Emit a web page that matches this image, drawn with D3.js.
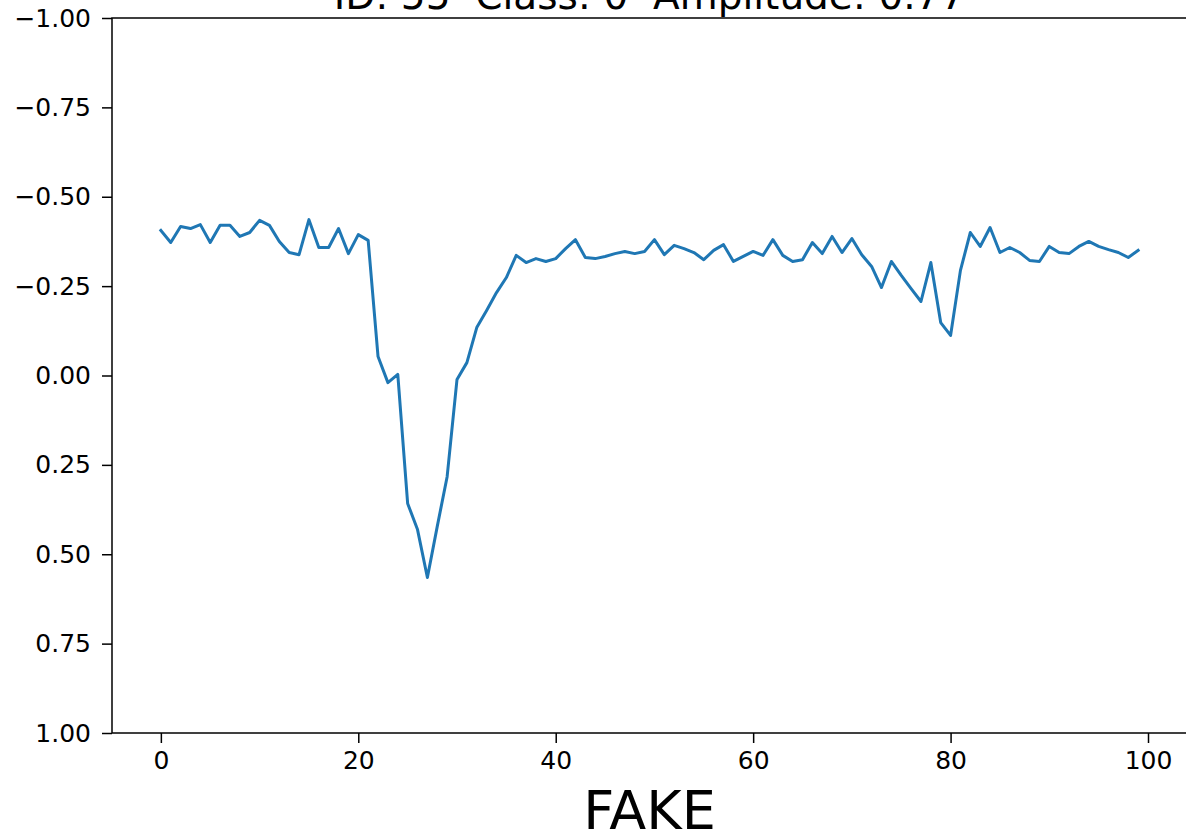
<!DOCTYPE html>
<html>
<head>
<meta charset="utf-8">
<script src="https://cdn.jsdelivr.net/npm/d3@7"></script>
<style>
  html, body { margin: 0; padding: 0; background: #fff; }
  svg { display: block; }
  text { font-family: "DejaVu Sans", sans-serif; fill: #000; }
</style>
</head>
<body>
<svg id="chart" width="1186" height="836"></svg>
<script>
const titleText = "ID: 55  Class: 0  Amplitude: 0.77";
const xLabel = "FAKE";
const xTicks = [0, 20, 40, 60, 80, 100];
const yTicks = [-1.0, -0.75, -0.5, -0.25, 0.0, 0.25, 0.5, 0.75, 1.0];
const values = [
  -0.406, -0.372, -0.417, -0.411, -0.422, -0.372, -0.420, -0.420, -0.389, -0.400,
  -0.434, -0.420, -0.375, -0.344, -0.338, -0.436, -0.358, -0.358, -0.411, -0.341,
  -0.394, -0.378, -0.053, 0.020, -0.003, 0.358, 0.431, 0.565, 0.422, 0.283,
  0.011, -0.036, -0.134, -0.182, -0.232, -0.274, -0.336, -0.316, -0.327, -0.319,
  -0.327, -0.355, -0.380, -0.330, -0.327, -0.333, -0.341, -0.347, -0.341, -0.347,
  -0.380, -0.338, -0.364, -0.355, -0.344, -0.324, -0.350, -0.366, -0.319, -0.333,
  -0.347, -0.336, -0.380, -0.336, -0.319, -0.324, -0.372, -0.341, -0.389, -0.344,
  -0.383, -0.338, -0.305, -0.246, -0.319, -0.280, -0.243, -0.207, -0.316, -0.148,
  -0.112, -0.294, -0.400, -0.361, -0.414, -0.344, -0.358, -0.344, -0.322, -0.319,
  -0.361, -0.344, -0.341, -0.361, -0.375, -0.361, -0.352, -0.344, -0.330, -0.350
];
const indices = values.map((_, i) => i);

const svg = d3.select("#chart");
const mLeft = 112, mRight = 1187, mTop = 18, mBottom = 733;
const n = values.length - 1;
const pad = n * 0.05;

const x = d3.scaleLinear().domain([-pad, n + pad]).range([mLeft, mRight]);
const y = d3.scaleLinear().domain([-1, 1]).range([mTop, mBottom]);

// line
const line = d3.line().x((d, i) => x(indices[i])).y(d => y(d));
svg.append("path")
  .datum(values)
  .attr("fill", "none")
  .attr("stroke", "#1f77b4")
  .attr("stroke-width", 3)
  .attr("stroke-linejoin", "round")
  .attr("stroke-linecap", "square")
  .attr("d", line);

// axes
const fs = 25;
const yAxis = d3.axisLeft(y).tickValues(yTicks)
  .tickFormat(d => d3.format(".2f")(d).replace("-", "\u2212"))
  .tickSize(10).tickPadding(11);
const gy = svg.append("g").attr("transform", `translate(${mLeft},0)`).call(yAxis);
gy.select(".domain").remove();
gy.selectAll(".tick line").attr("stroke", "#000").attr("stroke-width", 1.5);
gy.selectAll(".tick text").attr("font-size", fs).attr("font-family", "DejaVu Sans").attr("fill", "#000");

const xAxis = d3.axisBottom(x).tickValues(xTicks).tickFormat(d3.format("d"))
  .tickSize(10).tickPadding(8);
const gx = svg.append("g").attr("transform", `translate(0,${mBottom})`).call(xAxis);
gx.select(".domain").remove();
gx.selectAll(".tick line").attr("stroke", "#000").attr("stroke-width", 1.5);
gx.selectAll(".tick text").attr("font-size", fs).attr("font-family", "DejaVu Sans").attr("fill", "#000");

// spines
svg.append("rect")
  .attr("x", mLeft).attr("y", mTop)
  .attr("width", mRight - mLeft).attr("height", mBottom - mTop)
  .attr("fill", "none").attr("stroke", "#000").attr("stroke-width", 1.5);

// title
svg.append("text")
  .attr("x", (mLeft + mRight) / 2).attr("y", 9)
  .attr("text-anchor", "middle")
  .attr("font-size", 39)
  .style("white-space", "pre")
  .text(titleText);

// x label
svg.append("text")
  .attr("x", (mLeft + mRight) / 2).attr("y", 829)
  .attr("text-anchor", "middle")
  .attr("font-size", 54)
  .text(xLabel);
</script>
</body>
</html>
